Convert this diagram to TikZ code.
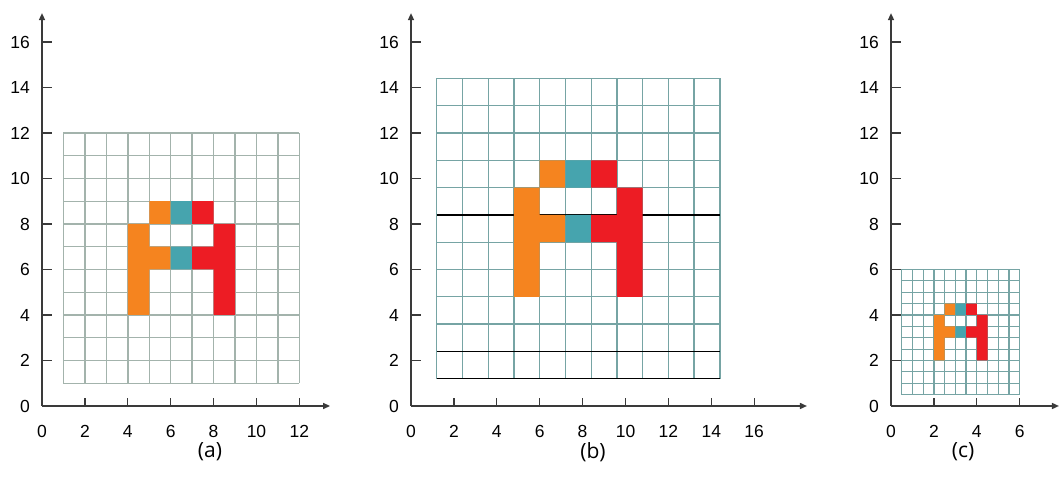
\documentclass[tikz,border=0pt]{standalone}
\usepackage{fontspec}
\setmainfont{Liberation Sans}
\newfontfamily\capfont{Open Sans}
\usetikzlibrary{arrows.meta}
\definecolor{orng}{HTML}{F5841F}
\definecolor{tealc}{HTML}{46A4AE}
\definecolor{redc}{HTML}{ED1C24}
\definecolor{gridA}{HTML}{A3B3AC}
\definecolor{gridB}{HTML}{76A4A4}
\definecolor{axisc}{HTML}{3A3A3A}
\tikzset{
  axisline/.style={draw=axisc, line width=1.5pt, -{Triangle[length=7pt,width=6pt]}},
  tickline/.style={draw=axisc, line width=1.3pt},
  ticklabel/.style={font=\fontsize{17.5}{17.5}\selectfont, text=black, inner sep=0pt},
  caplabel/.style={font=\capfont\fontsize{21}{21}\selectfont, text=black, inner sep=0pt},
  gridlineA/.style={draw=gridA, line width=1.4pt},
  gridlineB/.style={draw=gridB, line width=1.3pt},
  darkline/.style={draw=black, line width=1.4pt},
}
\newcommand{\axesset}[4]{% #1 name, #2 xmax label, #3 x arrow end, #4 y arrow end
  \coordinate (#1-o) at (0,0);
  \coordinate (#1-xe) at (#3,0);
  \coordinate (#1-ye) at (0,#4);
  \draw[axisline] (#1-o) -- (#1-xe);
  \draw[axisline] (#1-o) -- (#1-ye);
  \foreach \i in {2,4,...,#2} {\draw[tickline] (\i,0) -- ++(0,8pt);}
  \foreach \i in {2,4,...,16} {\draw[tickline] (0,\i) -- ++(10pt,0);}
  \foreach \i in {0,2,...,#2} {\node[ticklabel] (#1-xl\i) at ([yshift=-25pt]\i,0) {\i};}
  \foreach \i in {0,2,...,16} {\node[ticklabel, anchor=east] (#1-yl\i) at ([xshift=-12pt]0,\i) {\i};}
}
\newcommand{\letterA}{%
  \fill[orng] (4,4) rectangle (5,8) (5,6) rectangle (6,7) (5,8) rectangle (6,9);
  \fill[tealc] (6,8) rectangle (7,9) (6,6) rectangle (7,7);
  \fill[redc] (7,8) rectangle (8,9) (7,6) rectangle (8,7) (8,4) rectangle (9,8);
}
\begin{document}
\begin{tikzpicture}[x=1pt,y=1pt]
\useasboundingbox (0,0) rectangle (1061,492);
% panel (a)
\begin{scope}[shift={(42,86)}, x=21.45pt, y=22.75pt]
  \foreach \i in {1,...,12} {
    \draw[gridlineA] (\i,1) -- (\i,12);
    \draw[gridlineA] (1,\i) -- (12,\i);
  }
  \letterA
  \axesset{a}{12}{13.43}{17.27}
\end{scope}
% panel (b)
\begin{scope}[shift={(411,86)}, x=21.45pt, y=22.75pt]
  \begin{scope}[scale=1.2]
    \foreach \i in {1,...,12} {
      \draw[gridlineB] (\i,1) -- (\i,12);
      \draw[gridlineB] (1,\i) -- (12,\i);
    }
    \draw[darkline] (1,1) -- (12,1);
    \draw[darkline] (1,2) -- (12,2);
    \draw[darkline] (1,7) -- (12,7);
    \letterA
  \end{scope}
  \axesset{b}{16}{18.46}{17.27}
\end{scope}
% panel (c)
\begin{scope}[shift={(891,86)}, x=21.45pt, y=22.75pt]
  \begin{scope}[scale=0.5]
    \foreach \i in {1,...,12} {
      \draw[gridlineB, line width=1.2pt] (\i,1) -- (\i,12);
      \draw[gridlineB, line width=1.2pt] (1,\i) -- (12,\i);
    }
    \letterA
  \end{scope}
  \axesset{c}{6}{7.83}{17.27}
\end{scope}
\node[caplabel] (capa) at (210,40) {(a)};
\node[caplabel] (capb) at (593,40) {(b)};
\node[caplabel] (capc) at (963,40) {(c)};
\end{tikzpicture}
\end{document}
